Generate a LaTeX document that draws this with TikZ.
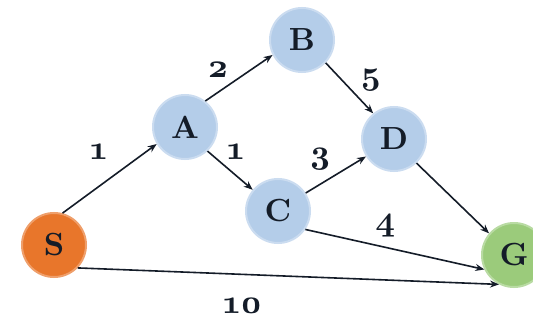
\documentclass[tikz,border=0pt]{standalone}
\usepackage{fontspec}
\setmainfont{Latin Modern Roman}
\newfontfamily\letterfont{lmroman10-bold.otf}
\newfontfamily\osffont{lmroman10-bold.otf}[Numbers=OldStyle]
\usetikzlibrary{arrows.meta}
\definecolor{nodeblue}{HTML}{B4CDE9}
\definecolor{nodeorange}{HTML}{E8762B}
\definecolor{nodegreen}{HTML}{9BCB7B}
\definecolor{inkdark}{HTML}{141C28}
\begin{document}
\begin{tikzpicture}[x=1pt,y=-1pt,
  vertex/.style={circle, minimum size=64pt, inner sep=0pt, text=inkdark,
    font=\letterfont\fontsize{32}{36}\selectfont, line width=2pt},
  bluev/.style={vertex, fill=nodeblue, draw=nodeblue!70!white},
  orangev/.style={vertex, fill=nodeorange, draw=nodeorange!70!white},
  greenv/.style={vertex, fill=nodegreen, draw=nodegreen!70!white},
  edge/.style={draw=inkdark, line width=1.6pt, -{Stealth[length=9pt,width=7pt]}},
  wlabel/.style={text=inkdark, inner sep=0pt, font=\osffont\fontsize{34}{38}\selectfont}
]
\useasboundingbox (0,0) rectangle (533,321);
\fill[white] (0,0) rectangle (533,321);

\node[orangev] (S) at (54,245) {S};
\node[bluev] (A) at (185,127) {A};
\node[bluev] (B) at (302,40) {B};
\node[bluev] (C) at (278,211) {C};
\node[bluev] (D) at (394,139) {D};
\node[greenv] (G) at (514,255) {G};

\draw[edge] (S.75) -- (A.211);
\draw[edge] (A.52) -- (B.207);
\draw[edge] (A.313) -- (C.140);
\draw[edge] (B.316) -- (D.129);
\draw[edge] (C.33) -- (D.212);
\draw[edge] (D.313) -- (G.139);
\draw[edge] (C.326) -- (G.206);
\draw[edge] (S.316) -- (G.243);

\node[wlabel] (l1) at (99,152) {1};
\node[wlabel] (l2) at (218,70) {2};
\node[wlabel] (l5) at (371,80) {5};
\node[wlabel] (l1b) at (236,152) {1};
\node[wlabel] (l3) at (321,159) {3};
\node[wlabel] (l4) at (386,226) {4};
\node[wlabel] (l10) at (243,306) {10};
\end{tikzpicture}
\end{document}
